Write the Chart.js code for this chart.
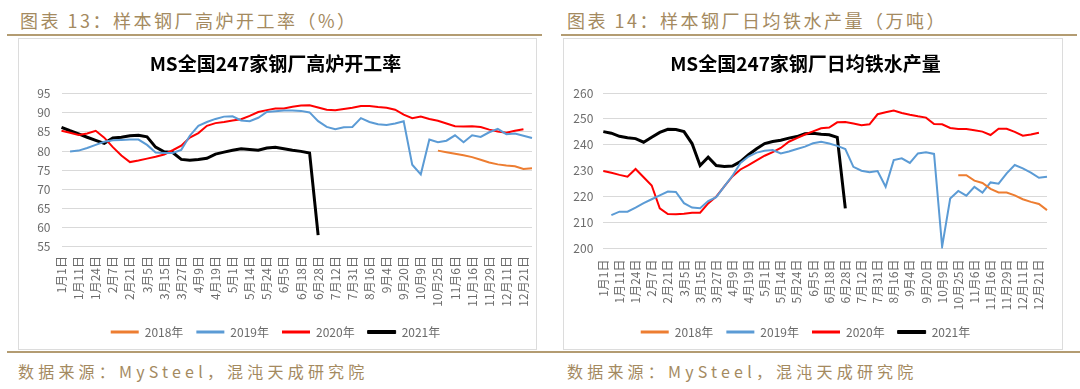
<!DOCTYPE html>
<html>
<head>
    <meta charset="utf-8">
    <title>样本钢厂高炉开工率 / 日均铁水产量</title>
    <style>
        body {
            margin: 0;
            width: 1080px;
            height: 389px;
            background: #fff;
            position: relative;
            overflow: hidden;
            font-family: "Noto Sans CJK SC", sans-serif;
        }
        .head, .src {
            position: absolute;
            color: #a48a5f;
            white-space: nowrap;
        }
        .head {
            top: 8px;
            font-size: 18px;
            line-height: 24px;
            letter-spacing: 2.5px;
        }
        .src {
            top: 359px;
            font-size: 16px;
            line-height: 24px;
            letter-spacing: 4.2px;
        }
        .rule {
            position: absolute;
            height: 2px;
            background: #b39c72;
        }
        .box {
            position: absolute;
            border: 1px solid #dcdcdc;
            box-sizing: border-box;
        }
        canvas {
            position: absolute;
        }
    </style>
</head>
<body>

<div class="head" style="left:20px;">图表 13：样本钢厂高炉开工率（%）</div>
<div class="head" style="left:567px;">图表 14：样本钢厂日均铁水产量（万吨）</div>
<div class="rule" style="left:7px; width:535px; top:34px;"></div>
<div class="rule" style="left:561px; width:516px; top:34px;"></div>

<div class="box" style="left:18px; top:38px; width:519px; height:312px;"></div>
<div class="box" style="left:563px; top:38px; width:500px; height:312px;"></div>

<canvas id="rateChart" width="517" height="311" style="left:19px; top:38px;"></canvas>
<canvas id="outputChart" width="498" height="311" style="left:564px; top:38px;"></canvas>

<div class="rule" style="left:7px; width:1073px; top:351px;"></div>
<div class="src" style="left:18px;">数据来源：MySteel，混沌天成研究院</div>
<div class="src" style="left:567px;">数据来源：MySteel，混沌天成研究院</div>

<script src="https://cdn.jsdelivr.net/npm/chart.js@4.4.1/dist/chart.umd.min.js"></script>
<script>
    // 周度日期（每隔一个显示）
    const dates = [
        '1月1日', '1月5日', '1月11日', '1月17日', '1月24日', '1月31日', '2月7日', '2月14日',
        '2月21日', '2月28日', '3月5日', '3月10日', '3月15日', '3月20日', '3月27日', '4月3日',
        '4月9日', '4月14日', '4月19日', '4月25日', '5月1日', '5月8日', '5月14日', '5月19日',
        '5月24日', '5月29日', '6月5日', '6月12日', '6月18日', '6月23日', '6月28日', '7月5日',
        '7月12日', '7月19日', '7月31日', '8月8日', '8月16日', '8月23日', '9月4日', '9月12日',
        '9月20日', '9月27日', '10月9日', '10月18日', '10月25日', '11月1日', '11月6日', '11月11日',
        '11月16日', '11月22日', '11月29日', '12月5日', '12月11日', '12月16日', '12月21日', '12月28日'
    ];
    const years = ['2018年', '2019年', '2020年', '2021年'];

    const N = null;

    // 高炉开工率 (%)
    const rate2018 = [
        N, N, N, N, N, N, N, N, N, N, N, N, N, N, N, N, N, N, N, N, N, N,
        N, N, N, N, N, N, N, N, N, N, N, N, N, N, N, N, N, N, N, N, N, N,
        80.1, 79.7, 79.3, 78.9, 78.4, 77.7, 77.0, 76.5, 76.2, 76.0, 75.3, 75.5
    ];
    const rate2019 = [
        N, 79.9, 80.1, 80.8, 81.6, 82.4, 82.8, 82.9, 83.0, 83.0, 81.6,
        79.6, 79.5, 79.5, 80.3, 84.0, 86.6, 87.6, 88.4, 89.0, 89.1,
        88.0, 87.8, 88.7, 90.2, 90.4, 90.6, 90.6, 90.5, 90.1, 87.8,
        86.3, 85.7, 86.2, 86.3, 88.6, 87.6, 87.0, 86.8, 87.2, 87.8,
        76.4, 73.9, 83.0, 82.3, 82.7, 84.1, 82.3, 84.1, 83.7, 84.9,
        85.8, 84.4, 84.6, 84.0, 83.4
    ];
    const rate2020 = [
        85.3, 84.8, 84.2, 84.6, 85.3, 83.5, 81.0, 78.8, 77.1, 77.5,
        78.0, 78.5, 79.1, 80.2, 81.4, 83.5, 84.7, 86.6, 87.3, 87.6,
        88.0, 88.3, 89.2, 90.2, 90.7, 91.1, 91.1, 91.6, 91.9, 92.0,
        91.4, 90.8, 90.7, 91.0, 91.3, 91.8, 91.8, 91.5, 91.3, 90.8,
        89.5, 88.6, 89.0, 88.4, 87.9, 87.2, 86.5, 86.4, 86.5, 86.3,
        85.6, 85.1, 84.8, 85.3, 85.7, N
    ];
    const rate2021 = [
        86.2, 85.3, 84.5, 83.6, 82.8, 82.0, 83.4, 83.6, 84.0, 84.1,
        83.7, 81.0, 79.8, 79.6, 77.8, 77.6, 77.8, 78.1, 79.2, 79.7,
        80.2, 80.6, 80.4, 80.2, 80.8, 81.0, 80.6, 80.2, 79.9, 79.5,
        58.0, N, N, N, N, N, N, N, N, N, N, N, N, N, N, N, N, N, N, N,
        N, N, N, N, N, N
    ];

    // 日均铁水产量 (万吨)
    const out2018 = [
        N, N, N, N, N, N, N, N, N, N, N, N, N, N, N, N, N, N, N, N, N, N,
        N, N, N, N, N, N, N, N, N, N, N, N, N, N, N, N, N, N, N, N, N, N,
        228.3, 228.3, 226.2, 225.3, 223.0, 221.6, 221.6, 220.5, 219.0, 218.0, 217.2, 214.8
    ];
    const out2019 = [
        N, 212.9, 214.2, 214.2, 215.8, 217.5, 219.0, 220.5, 222.0, 221.8, 217.5,
        215.8, 215.5, 218.3, 219.8, 224.0, 228.0, 233.0, 235.5, 237.0, 237.7,
        238.0, 236.7, 237.4, 238.4, 239.3, 240.6, 241.2, 240.5, 239.6, 238.4,
        231.5, 230.0, 229.4, 229.9, 223.8, 234.1, 234.8, 233.0, 236.7, 237.1,
        236.5, 200.7, 219.3, 222.2, 220.4, 223.8, 221.6, 225.5, 225.0, 229.0,
        232.2, 230.9, 229.3, 227.3, 227.7
    ];
    const out2020 = [
        229.9, 229.2, 228.4, 227.7, 230.7, 227.5, 224.3, 215.5, 213.3, 213.2,
        213.4, 213.8, 213.8, 217.4, 220.0, 224.0, 227.8, 230.5, 232.2, 234.0,
        235.8, 237.2, 238.8, 241.2, 242.6, 244.0, 245.2, 246.4, 246.7, 248.7,
        248.8, 248.2, 247.6, 247.9, 251.8, 252.6, 253.2, 252.3, 251.6, 251.0,
        250.5, 248.0, 247.9, 246.5, 246.1, 246.1, 245.6, 245.1, 243.8, 246.2,
        246.2, 245.0, 243.5, 244.0, 244.7, N
    ];
    const out2021 = [
        245.1, 244.5, 243.3, 242.7, 242.4, 241.0, 242.9, 244.8, 246.0, 245.9,
        245.1, 240.5, 232.0, 235.2, 232.0, 231.6, 231.8, 233.5, 236.2, 238.5,
        240.5, 241.3, 241.8, 242.6, 243.2, 244.3, 244.5, 244.1, 243.9, 242.9,
        215.5, N, N, N, N, N, N, N, N, N, N, N, N, N, N, N, N, N, N, N,
        N, N, N, N, N, N
    ];

    const rateTicks = {min: 55, max: 95, step: 5};
    const outputTicks = {min: 200, max: 260, step: 10};

    const colors = ['#ed7d31', '#5b9bd5', '#ff0000', '#000000'];
    const widths = [2, 2, 2, 3];
    const fontFamily = '"Noto Sans CJK SC", "Noto Sans", sans-serif';
    const tickColor = '#6b6b6b';

    function crearGrafica(id, title, series, yTicks, box) {
        const datasets = series.map((values, i) => ({
            label: years[i],
            data: values,
            borderColor: colors[i],
            backgroundColor: colors[i],
            borderWidth: widths[i],
            pointRadius: 0,
            tension: 0,
            spanGaps: false
        }));

        return new Chart(document.getElementById(id), {
            type: 'line',
            data: {labels: dates, datasets: datasets},
            options: {
                responsive: false,
                animation: false,
                events: [],
                layout: {padding: {left: 0, right: box.right, top: 0, bottom: 1}},
                scales: {
                    x: {
                        offset: false,
                        grid: {display: false, drawTicks: false},
                        border: {display: false},
                        ticks: {
                            autoSkip: false,
                            minRotation: 90,
                            maxRotation: 90,
                            padding: box.xPad,
                            color: tickColor,
                            font: {size: 12, family: fontFamily},
                            callback: (v, i) => i % 2 === 0 ? dates[i] : ''
                        },
                        afterFit: s => {
                            s.height = box.xHeight;
                            s.paddingLeft = 0;
                            s.paddingRight = 0;
                        }
                    },
                    y: {
                        min: yTicks.min,
                        max: yTicks.max,
                        grid: {color: '#d9d9d9', lineWidth: 1, drawTicks: false},
                        border: {display: false},
                        ticks: {
                            stepSize: yTicks.step,
                            padding: box.yPad,
                            color: tickColor,
                            font: {size: 12, family: fontFamily}
                        },
                        afterFit: s => {
                            s.width = box.yWidth;
                            s.paddingTop = 0;
                            s.paddingBottom = 0;
                        }
                    }
                },
                plugins: {
                    title: {
                        display: true,
                        text: title,
                        color: '#000',
                        font: {size: 19, weight: 'bold', family: fontFamily},
                        padding: {top: 14, bottom: box.titleBottom}
                    },
                    legend: {
                        position: 'bottom',
                        labels: {
                            boxWidth: 28,
                            boxHeight: 3,
                            padding: 13,
                            color: tickColor,
                            font: {size: 12, family: fontFamily},
                            generateLabels: chart => chart.data.datasets.map((ds, i) => ({
                                text: ds.label,
                                fillStyle: ds.borderColor,
                                strokeStyle: ds.borderColor,
                                lineWidth: i === 3 ? 1 : 0,
                                fontColor: tickColor,
                                hidden: false,
                                datasetIndex: i
                            }))
                        }
                    },
                    tooltip: {enabled: false}
                }
            }
        });
    }

    crearGrafica('rateChart', 'MS全国247家钢厂高炉开工率',
        [rate2018, rate2019, rate2020, rate2021], rateTicks,
        {right: 4, xHeight: 66.5, yWidth: 42.5, yPad: 11, xPad: 9.5, titleBottom: 18.9});

    crearGrafica('outputChart', 'MS全国247家钢厂日均铁水产量',
        [out2018, out2019, out2020, out2021], outputTicks,
        {right: 15, xHeight: 64.5, yWidth: 39.3, yPad: 10, xPad: 11, titleBottom: 18.2});
</script>
</body>
</html>
